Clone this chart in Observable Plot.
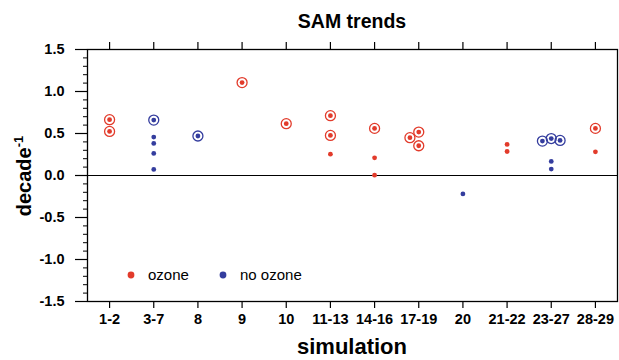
<!DOCTYPE html>
<html>
<head>
<meta charset="utf-8">
<script src="https://cdn.jsdelivr.net/npm/d3@7"></script>
<script src="https://cdn.jsdelivr.net/npm/@observablehq/plot@0.6"></script>
<style>
  html, body { margin: 0; padding: 0; background: #fff; }
  #chart svg { display: block; }
</style>
</head>
<body>
<div id="chart"></div>
<script>
// ---- data ----
const simLabels = ["1-2","3-7","8","9","10","11-13","14-16","17-19","20","21-22","23-27","28-29"];
const yTicks = [-1.5, -1.0, -0.5, 0.0, 0.5, 1.0, 1.5];

// ozone runs: position on the simulation axis, trend value, ringed marker
const ozonePos   = [1, 1, 4, 5, 6, 6, 6, 7, 7, 7, 7.8, 8, 8, 10, 10, 12, 12];
const ozoneVal   = [0.665, 0.525, 1.106, 0.617, 0.712, 0.477, 0.254, 0.561, 0.211, 0.004, 0.45, 0.517, 0.354, 0.37, 0.286, 0.561, 0.282];
const ozoneRing  = [1, 1, 1, 1, 1, 1, 0, 1, 0, 0, 1, 1, 1, 0, 0, 1, 0];

// no-ozone runs
const noOzonePos  = [2, 2, 2, 2, 2, 3, 9, 10.8, 11, 11.2, 11, 11];
const noOzoneVal  = [0.66, 0.457, 0.382, 0.263, 0.072, 0.47, -0.219, 0.41, 0.44, 0.418, 0.167, 0.076];
const noOzoneRing = [1, 0, 0, 0, 0, 1, 0, 1, 1, 1, 0, 0];

const groups = ["ozone", "no ozone"];
const groupColors = ["#e23b2b", "#343d9e"];

// ---- table for the library ----
const points = [
  ...ozonePos.map((p, i) => ({pos: p, val: ozoneVal[i], ring: ozoneRing[i], group: groups[0]})),
  ...noOzonePos.map((p, i) => ({pos: p, val: noOzoneVal[i], ring: noOzoneRing[i], group: groups[1]}))
];

const font = "'Liberation Sans', Arial, Helvetica, sans-serif";
const minorTicks = d3.range(-15, 16).map(d => d / 10);

const svg = Plot.plot({
  width: 619,
  height: 360,
  marginTop: 49,
  marginBottom: 59,
  marginLeft: 87,
  marginRight: 2,
  style: {fontFamily: font, background: "#fff", color: "#000"},
  x: {domain: [0.5, 12.5]},
  y: {domain: [-1.5, 1.5]},
  color: {domain: groups, range: groupColors},
  marks: [
    Plot.ruleY([0], {stroke: "#000", strokeWidth: 1}),
    Plot.axisY({ticks: minorTicks, tickSize: 4, fill: "none", label: null, strokeWidth: 1}),
    Plot.axisY({ticks: yTicks, tickSize: 12, tickPadding: 11, tickFormat: d => d.toFixed(1),
                fontSize: 14.5, fontWeight: "bold", label: null, strokeWidth: 1.2}),
    Plot.axisX({ticks: d3.range(1, 13), anchor: "bottom", tickSize: 7, tickPadding: 5,
                tickFormat: d => simLabels[d - 1], fontSize: 14.5, fontWeight: "bold", label: null, strokeWidth: 1.2}),
    Plot.axisX({ticks: d3.range(1, 13), anchor: "top", tickSize: 8, fill: "none", label: null, strokeWidth: 1.2}),
    Plot.frame({stroke: "#000", strokeWidth: 1.3}),
    Plot.dot(points.filter(d => d.ring), {x: "pos", y: "val", r: 5, stroke: "group", strokeWidth: 1.3, fill: "none"}),
    Plot.dot(points, {x: "pos", y: "val", r: 2.4, fill: "group", stroke: "none"})
  ]
});

const s = d3.select(svg);
// title
s.append("text").attr("x", 352).attr("y", 28).attr("text-anchor", "middle")
  .attr("font-family", font).attr("font-weight", "bold").attr("font-size", 19.5).text("SAM trends");
// x label
s.append("text").attr("x", 352).attr("y", 354).attr("text-anchor", "middle")
  .attr("font-family", font).attr("font-weight", "bold").attr("font-size", 22).text("simulation");
// y label with superscript
const yl = s.append("text").attr("transform", "translate(31,176) rotate(-90)").attr("text-anchor", "middle")
  .attr("font-family", font).attr("font-weight", "bold").attr("font-size", 20);
yl.append("tspan").text("decade");
yl.append("tspan").attr("dy", -8).attr("font-size", 13).text("-1");

// legend
const lg = s.append("g").attr("font-family", font).attr("font-size", 15).attr("text-anchor", "start");
const legX = [131, 223];
groups.forEach((g, i) => {
  lg.append("circle").attr("cx", legX[i]).attr("cy", 275).attr("r", 3.4).attr("fill", groupColors[i]);
  lg.append("text").attr("x", legX[i] + 17).attr("y", 280).attr("text-anchor", "start").text(g);
});

document.getElementById("chart").appendChild(svg);
</script>
</body>
</html>
